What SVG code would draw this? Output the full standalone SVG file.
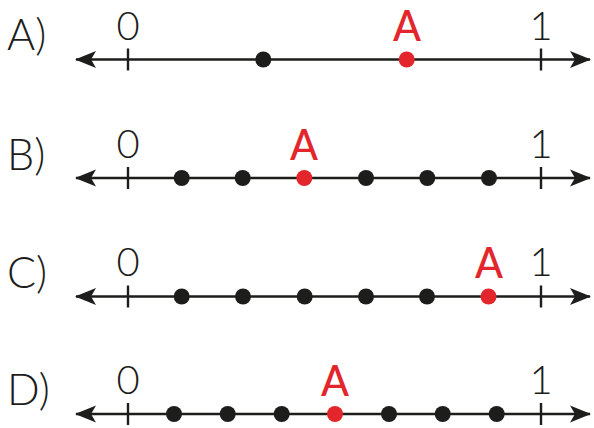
<svg xmlns="http://www.w3.org/2000/svg" width="594" height="428" viewBox="0 0 594 428">
<defs>
<style>
.ln{stroke:#1d1d1b;stroke-width:2.6;fill:none}
.tk{stroke:#1d1d1b;stroke-width:2.4}
.dk{fill:#1d1d1b}
.rd{fill:#e3262b}
.num{font-family:Lato,"Open Sans","DejaVu Sans",sans-serif;font-weight:300;font-size:40px;fill:#1d1d1b;text-anchor:middle}
.lab{font-family:Lato,"Open Sans","DejaVu Sans",sans-serif;font-weight:300;font-size:43px;fill:#1d1d1b}
.pa{font-family:Lato,"Open Sans","DejaVu Sans",sans-serif;font-weight:500;font-size:43px;fill:#e3262b;text-anchor:middle}
</style>
<marker id="ah" markerUnits="userSpaceOnUse" markerWidth="24" markerHeight="20" viewBox="-22 -10 24 20" refX="0" refY="0" orient="auto-start-reverse">
<path d="M1,0 L-20,-8.5 L-15,0 L-20,8.5 Z" fill="#1d1d1b"/>
</marker>
</defs>
<g id="connectors">
<line class="ln" x1="76" y1="59.5" x2="590" y2="59.5" marker-start="url(#ah)" marker-end="url(#ah)"/>
<line class="ln" x1="76" y1="178" x2="590" y2="178" marker-start="url(#ah)" marker-end="url(#ah)"/>
<line class="ln" x1="76" y1="296.5" x2="590" y2="296.5" marker-start="url(#ah)" marker-end="url(#ah)"/>
<line class="ln" x1="76" y1="414" x2="590" y2="414" marker-start="url(#ah)" marker-end="url(#ah)"/>
</g>
<g id="rowA">
<text class="lab" x="7" y="50">A)</text>
<line class="tk" x1="128" y1="48.5" x2="128" y2="70.5"/>
<line class="tk" x1="541" y1="48.5" x2="541" y2="70.5"/>
<text class="num" x="128" y="40">0</text>
<text class="num" x="541" y="40">1</text>
<circle class="dk" cx="263.3" cy="59.5" r="8"/>
<circle class="rd" cx="406.7" cy="59.5" r="8"/>
<text class="pa" x="407" y="41" textLength="28" lengthAdjust="spacingAndGlyphs">A</text>
</g>
<g id="rowB">
<text class="lab" x="7" y="170">B)</text>
<line class="tk" x1="128" y1="167" x2="128" y2="189"/>
<line class="tk" x1="541" y1="167" x2="541" y2="189"/>
<text class="num" x="128" y="158">0</text>
<text class="num" x="541" y="158">1</text>
<circle class="dk" cx="181.7" cy="178" r="8"/>
<circle class="dk" cx="242.7" cy="178" r="8"/>
<circle class="rd" cx="304.3" cy="178" r="8"/>
<circle class="dk" cx="366" cy="178" r="8"/>
<circle class="dk" cx="427.3" cy="178" r="8"/>
<circle class="dk" cx="489" cy="178" r="8"/>
<text class="pa" x="304" y="160" textLength="28" lengthAdjust="spacingAndGlyphs">A</text>
</g>
<g id="rowC">
<text class="lab" x="7" y="288">C)</text>
<line class="tk" x1="128" y1="285.5" x2="128" y2="307.5"/>
<line class="tk" x1="541" y1="285.5" x2="541" y2="307.5"/>
<text class="num" x="128" y="276">0</text>
<text class="num" x="541" y="276">1</text>
<circle class="dk" cx="181.7" cy="296.5" r="8"/>
<circle class="dk" cx="243" cy="296.5" r="8"/>
<circle class="dk" cx="304.7" cy="296.5" r="8"/>
<circle class="dk" cx="366" cy="296.5" r="8"/>
<circle class="dk" cx="427" cy="296.5" r="8"/>
<circle class="rd" cx="488.5" cy="296.5" r="8"/>
<text class="pa" x="489" y="278" textLength="28" lengthAdjust="spacingAndGlyphs">A</text>
</g>
<g id="rowD">
<text class="lab" x="7" y="405">D)</text>
<line class="tk" x1="128" y1="403" x2="128" y2="425"/>
<line class="tk" x1="541" y1="403" x2="541" y2="425"/>
<text class="num" x="128" y="394">0</text>
<text class="num" x="541" y="394">1</text>
<circle class="dk" cx="174" cy="414" r="8"/>
<circle class="dk" cx="227.7" cy="414" r="8"/>
<circle class="dk" cx="281.7" cy="414" r="8"/>
<circle class="rd" cx="335" cy="414" r="8"/>
<circle class="dk" cx="389" cy="414" r="8"/>
<circle class="dk" cx="442.7" cy="414" r="8"/>
<circle class="dk" cx="496.7" cy="414" r="8"/>
<text class="pa" x="335" y="396" textLength="28" lengthAdjust="spacingAndGlyphs">A</text>
</g>
</svg>
